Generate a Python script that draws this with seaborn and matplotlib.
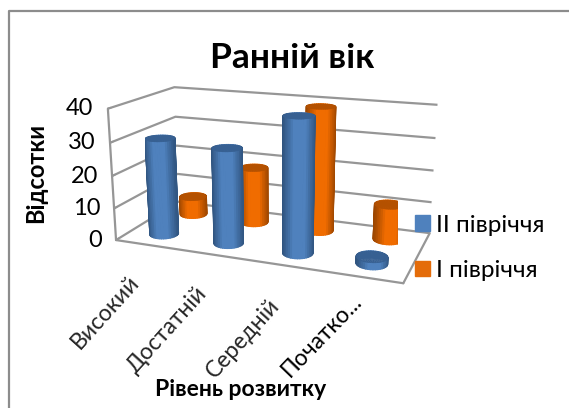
"""
Ранній вік: 3D cylinder chart of development levels by half-year.
"""

import colorsys

import numpy as np
import matplotlib
matplotlib.use("Agg")
import matplotlib.pyplot as plt
import seaborn as sns
from matplotlib.colors import to_rgb
from matplotlib.lines import Line2D
from matplotlib.patches import Patch

# ── Data ──────────────────────────────────────────────────────────────────────

levels = ["Високий", "Достатній", "Середній", "Початко..."]
second_half = [30, 29, 40, 2]   # II півріччя, front row
first_half = [6, 18, 39, 11]    # I півріччя, back row
z_ticks = [0, 10, 20, 30, 40]

# ── Style ─────────────────────────────────────────────────────────────────────

sns.set_theme(style="white")
plt.rcParams["font.family"] = ["Lato", "Noto Sans", "DejaVu Sans"]
plt.rcParams["text.color"] = "black"

BLUE = "#4F81BD"
ORANGE = "#F06C00"
GRID = "#969696"
BOX = (4.6, 2.1, 2.12)
RADIUS = 0.2  # in x data units
AZIM = -69


def darker(color, factor):
    h, l, s = colorsys.rgb_to_hls(*to_rgb(color))
    return colorsys.hls_to_rgb(h, l * factor, s)


def cylinder(ax, x, y, height, color, order):
    """One cylinder, side wall shaded across its width, darker cap on top."""
    rx = RADIUS
    ry = RADIUS * BOX[0] / 4 * 2 / BOX[1]
    theta = np.linspace(0, 2 * np.pi, 41)
    tt, zz = np.meshgrid(theta, [0.0, height])
    xx = x + rx * np.cos(tt)
    yy = y + ry * np.sin(tt)

    shades = sns.blend_palette([darker(color, 0.65), color, color, darker(color, 0.65)], 41)
    facing = np.cos(theta[:-1] + np.pi / 40 - np.radians(AZIM + 90))
    idx = ((facing + 1) / 2 * 40).astype(int)
    faces = np.array([[shades[i] for i in idx]])
    ax.plot_surface(xx, yy, zz, facecolors=faces, shade=False, rstride=1, cstride=1,
                    linewidth=0.9, zorder=order)

    cap = darker(color, 0.75)
    tt2, rr = np.meshgrid(theta, [0.0, 1.0])
    ax.plot_surface(x + rx * rr * np.cos(tt2), y + ry * rr * np.sin(tt2), np.full_like(tt2, height),
                    color=cap, shade=False, rstride=1, cstride=1, linewidth=0.3,
                    edgecolor=cap, zorder=order + 1)


# ── Figure ────────────────────────────────────────────────────────────────────

fig = plt.figure(figsize=(5.69, 4.08), dpi=100)
fig.patch.set_facecolor("white")
fig.add_artist(Line2D([9 / 569, 9 / 569, 1], [0, 1 - 11 / 408, 1 - 11 / 408], transform=fig.transFigure,
                      color="#8C8C8C", linewidth=1.6))

ax = fig.add_axes([0.102, 0.257, 0.75, 0.62], projection="3d", computed_zorder=False)
ax.patch.set_alpha(0)
ax.set_proj_type("persp", focal_length=0.55)
ax.view_init(elev=16, azim=AZIM)
ax.set_box_aspect(BOX, zoom=1.34)

for i, s1 in enumerate(first_half):
    cylinder(ax, i + 0.5, 1.5, s1, ORANGE, 2)
for i, s2 in enumerate(second_half):
    cylinder(ax, i + 0.5, 0.5, s2, BLUE, 4)

ax.set_xlim(0, 4)
ax.set_ylim(0, 2)
ax.set_zlim(0, 40)
ax.set_xticks(np.arange(len(levels)) + 0.5)
# the last label sits higher than its tick in the original, so it is placed on the figure below
ax.set_xticklabels(levels[:3] + [""], rotation=48, rotation_mode="anchor", ha="right", va="center", fontsize=16.5)
ax.set_yticks([])
ax.set_zticks(z_ticks)
ax.set_zticklabels([str(v) for v in z_ticks], ha="right", va="center", fontsize=17)
ax.tick_params(axis="z", labelcolor="black", color=GRID, width=1.6, pad=-4)
ax.tick_params(axis="x", color=(1, 1, 1, 0), pad=10)

for axis in (ax.xaxis, ax.yaxis, ax.zaxis):
    axis.set_pane_color((1, 1, 1, 0))
    axis.pane.set_edgecolor((1, 1, 1, 0))
    axis.line.set_color(GRID)
    axis.line.set_linewidth(1.6)
ax.grid(True)
ax.zaxis._axinfo["grid"].update(color=GRID, linewidth=1.6)
ax.zaxis._axinfo["tick"].update(outward_factor=0.5, inward_factor=0)
ax.xaxis._axinfo["grid"].update(color=(1, 1, 1, 0), linewidth=0)
ax.yaxis._axinfo["grid"].update(color=(1, 1, 1, 0), linewidth=0)
ax.zaxis.set_ticks_position("lower")

fig.text(358 / 569, 1 - 298 / 408, levels[3], rotation=46, rotation_mode="anchor", ha="right", va="center",
         fontsize=16.5)
fig.text(292 / 569, 1 - 58 / 408, "Ранній вік", ha="center", va="center", fontsize=25.5, fontweight="bold")
fig.text(36 / 569, 1 - 173 / 408, "Відсотки", rotation=90, ha="center", va="center", fontsize=17, fontweight="bold")
fig.text(241 / 569, 1 - 389 / 408, "Рівень розвитку", ha="center", va="center", fontsize=16.5, fontweight="bold")

handles = [Patch(color=BLUE), Patch(color="#E46C0A")]
fig.legend(handles, ["II півріччя", "I півріччя"], loc="center left", bbox_to_anchor=(415 / 569, 1 - 248 / 408),
           frameon=False, fontsize=17.5, borderpad=0, borderaxespad=0, handlelength=0.62, handleheight=0.62,
           handletextpad=0.25, labelspacing=1.0)

fig.savefig("out.png", dpi=100)
